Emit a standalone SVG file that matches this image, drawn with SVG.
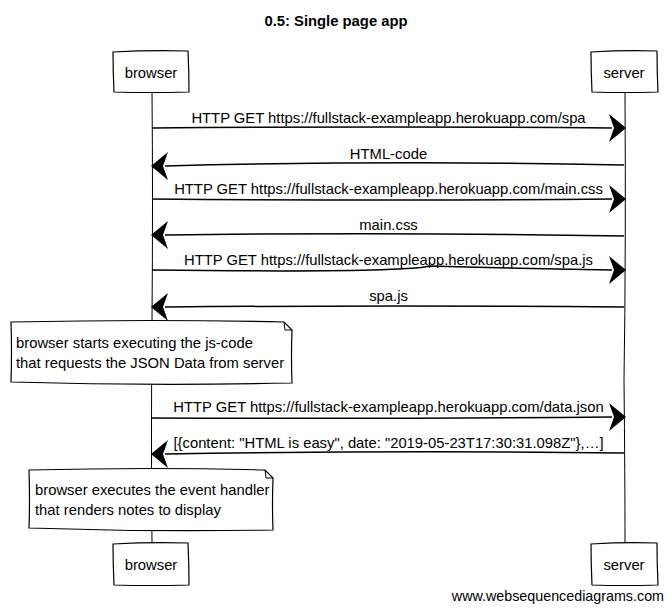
<svg xmlns="http://www.w3.org/2000/svg" width="671" height="609" viewBox="0 0 671 609">
<style>
text{font-family:"Liberation Sans",Arial,sans-serif;font-size:14.8px;fill:#000}
.title{font-size:14.8px;font-weight:bold}
.foot{font-size:14.3px}
.box{fill:#fff;stroke:#000;stroke-width:1.2}
.life{fill:none;stroke:#000;stroke-width:1}
.msg{fill:none;stroke:#000;stroke-width:1.5}
.head{fill:#000;stroke:none}
.c{text-anchor:middle}
</style>
<rect width="671" height="609" fill="#fff"/>
<text class="title c" x="336" y="26">0.5: Single page app</text>

<g id="lifelines">
<path class="life" d="M152 92 Q153 200 152 320 Q151 450 152 543"/>
<path class="life" d="M625 92 Q626 250 624 380 Q625 480 625 543"/>
</g>

<g id="browser-top">
<path class="box" d="M113 52 Q150 50 188 51 Q189 72 189 92 Q150 93 114 92 Q113 72 113 52 Z"/>
<text class="c" x="151" y="78">browser</text>
</g>
<g id="server-top">
<path class="box" d="M591 52 Q624 50 657 51 Q657 72 658 92 Q624 93 592 92 Q591 72 591 52 Z"/>
<text class="c" x="624" y="78">server</text>
</g>
<g id="browser-bottom">
<path class="box" d="M113 544 Q150 542 188 543 Q189 564 189 585 Q150 586 114 585 Q113 564 113 544 Z"/>
<text class="c" x="151" y="570">browser</text>
</g>
<g id="server-bottom">
<path class="box" d="M591 544 Q624 542 657 543 Q657 564 658 585 Q624 586 592 585 Q591 564 591 544 Z"/>
<text class="c" x="624" y="570">server</text>
</g>

<g id="connectors">
<path class="msg" d="M152 128 Q400 126 612 128"/>
<path class="head" d="M626 128 L609 114 L614 128 L609 142 Z"/>
<path class="msg" d="M624 165 Q400 160 165 166"/>
<path class="head" d="M151 166 L168 152 L163 166 L168 180 Z"/>
<path class="msg" d="M152 199 Q400 201 612 199"/>
<path class="head" d="M626 199 L609 185 L614 199 L609 213 Z"/>
<path class="msg" d="M624 236 Q400 232 165 235"/>
<path class="head" d="M151 235 L168 221 L163 235 L168 249 Z"/>
<path class="msg" d="M152 270 Q400 273 430 266 Q500 268 612 270"/>
<path class="head" d="M626 270 L609 256 L614 270 L609 284 Z"/>
<path class="msg" d="M624 307 Q400 305 165 307"/>
<path class="head" d="M151 307 L168 293 L163 307 L168 321 Z"/>
<path class="msg" d="M152 418 Q400 419 612 417"/>
<path class="head" d="M626 417 L609 403 L614 417 L609 431 Z"/>
<path class="msg" d="M624 453 Q400 450 165 454"/>
<path class="head" d="M151 454 L168 440 L163 454 L168 468 Z"/>
</g>

<g id="labels">
<text class="c" x="388.5" y="123">HTTP GET https://fullstack-exampleapp.herokuapp.com/spa</text>
<text class="c" x="388.5" y="159">HTML-code</text>
<text class="c" x="388.5" y="194">HTTP GET https://fullstack-exampleapp.herokuapp.com/main.css</text>
<text class="c" x="388.5" y="230">main.css</text>
<text class="c" x="388.5" y="265">HTTP GET https://fullstack-exampleapp.herokuapp.com/spa.js</text>
<text class="c" x="388.5" y="301">spa.js</text>
<text class="c" x="388.5" y="412">HTTP GET https://fullstack-exampleapp.herokuapp.com/data.json</text>
<text class="c" x="388.5" y="448">[{content: "HTML is easy", date: "2019-05-23T17:30:31.098Z"},…]</text>
</g>

<g id="note-1">
<path class="box" d="M11 322 Q150 319 284 322 L292 330 Q291 356 292 383 Q150 386 11 382 Q12 352 11 322 Z"/>
<path class="life" d="M284 322 L285 330 L292 330"/>
<text x="16" y="348">browser starts executing the js-code</text>
<text x="16" y="368">that requests the JSON Data from server</text>
</g>

<g id="note-2">
<path class="box" d="M29 470 Q150 467 265 470 L273 478 Q272 504 273 530 Q150 532 29 528 Q30 500 29 470 Z"/>
<path class="life" d="M265 470 L266 478 L273 478"/>
<text x="35" y="495">browser executes the event handler</text>
<text x="35" y="515">that renders notes to display</text>
</g>

<text class="foot" x="664" y="601" text-anchor="end">www.websequencediagrams.com</text>
</svg>
